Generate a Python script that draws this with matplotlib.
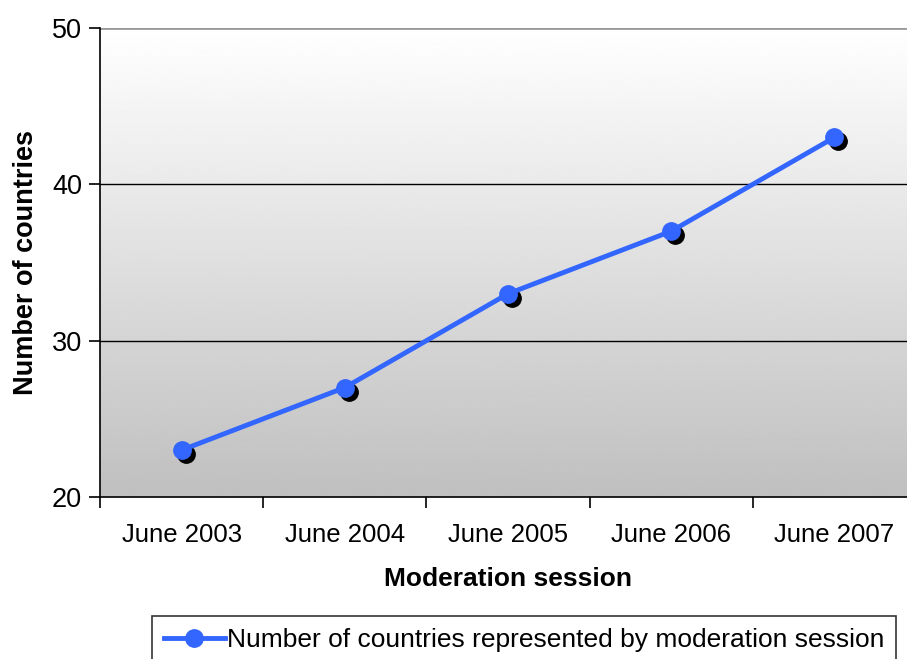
import matplotlib
matplotlib.use("Agg")
import matplotlib.pyplot as plt
import matplotlib.transforms as mtransforms
import numpy as np

plt.rcParams['font.family'] = ['Liberation Sans', 'DejaVu Sans']

# data
sessions = ['June 2003', 'June 2004', 'June 2005', 'June 2006', 'June 2007']
countries = [23, 27, 33, 37, 43]
y_ticks = [20, 30, 40, 50]

fig = plt.figure(figsize=(9.07, 6.59), dpi=100)
ax = fig.add_axes([100 / 907, 1 - 497 / 659, 816 / 907, 469 / 659])

x = np.arange(len(sessions))
ax.set_xlim(-0.5, len(sessions) - 0.5)
ax.set_ylim(20, 50)

# gradient background: white at top, grey at bottom
grad = np.linspace(0.75, 1.0, 256).reshape(-1, 1)
ax.imshow(grad, extent=(-0.5, len(sessions) - 0.5, 20, 50), origin='lower',
          cmap='gray', vmin=0, vmax=1, aspect='auto', zorder=0)

# grid lines
for yv in y_ticks[1:-1]:
    ax.axhline(yv, color='black', lw=1, zorder=1)
ax.axhline(50, color='#999999', lw=2, zorder=1)

# shadow markers
shadow = mtransforms.offset_copy(ax.transData, fig=fig, x=4, y=-4, units='dots')
ax.plot(x, countries, 'o', color='black', ms=12.5, transform=shadow, zorder=2)
ax.plot(x, countries, '-o', color='#3366ff', lw=3.5, ms=12.5,
        label='Number of countries represented by moderation session', zorder=3)

for s in ['top', 'right']:
    ax.spines[s].set_visible(False)
ax.spines['left'].set_linewidth(1.2)
ax.spines['bottom'].set_linewidth(1.2)

ax.set_yticks(y_ticks)
ax.tick_params(axis='y', labelsize=19.5, length=8, width=1.2, pad=5)
ax.set_xticks(x)
ax.set_xticklabels(sessions)
ax.tick_params(axis='x', which='major', length=0, labelsize=18.5, pad=19)
ax.set_xticks(np.arange(-0.5, len(sessions)), minor=True)
ax.tick_params(axis='x', which='minor', length=8, width=1.2)

ax.set_xlabel('Moderation session', fontsize=19, fontweight='bold', labelpad=14)
ax.set_ylabel('Number of countries', fontsize=19.5, fontweight='bold', labelpad=9)

leg = fig.legend(loc='upper left', bbox_to_anchor=(152 / 907, 1 - 616 / 659),
                 fontsize=19, frameon=True, fancybox=False, edgecolor='black',
                 handlelength=2.3, handletextpad=0.1, borderpad=0.45, borderaxespad=0)
leg.get_frame().set_linewidth(1.2)

fig.savefig('out.png', dpi=100)
